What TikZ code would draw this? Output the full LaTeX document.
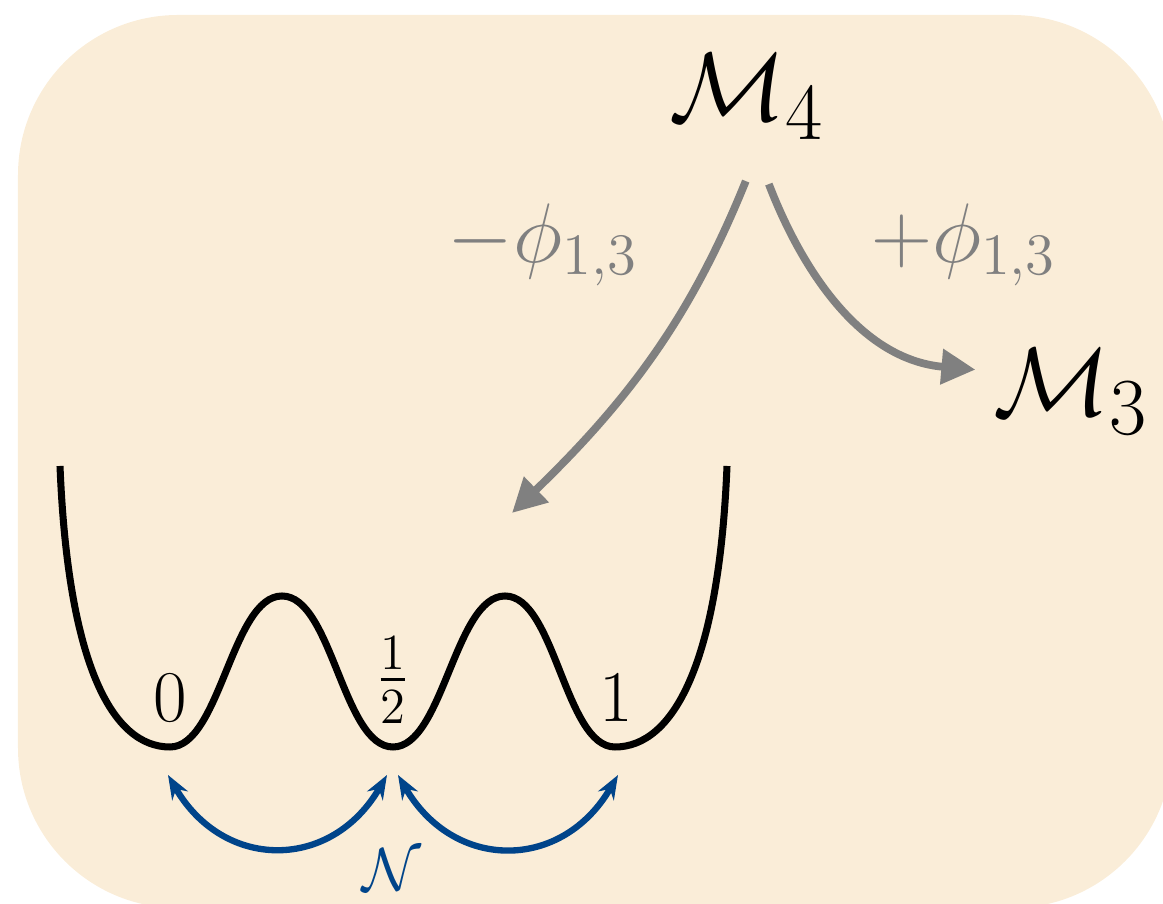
\documentclass[tikz,border=0pt]{standalone}
\usepackage{amsmath}
\usepackage{amssymb}
\usepackage{tikz}
\usetikzlibrary{arrows.meta}
\definecolor{bgbeige}{RGB}{250,237,216}
\definecolor{flowgray}{RGB}{128,128,128}
\definecolor{hopblue}{RGB}{0,68,138}

\begin{document}
\begin{tikzpicture}[
	flow/.style={draw=flowgray,line width=2.2pt,-{Triangle[length=3.4mm,width=3.4mm]}},
	hop/.style={draw=hopblue,line width=1.8pt,{Stealth[length=2.4mm,width=1.8mm]}-{Stealth[length=2.4mm,width=1.8mm]}},
	potential/.style={draw=black,line width=2pt},
	model/.style={font=\Huge,scale=1.11},
	coupling/.style={text=flowgray,font=\huge,scale=1.16},
	]
			\useasboundingbox (0,0) rectangle (11.63,9.04);
			\clip (0,0) rectangle (11.63,9.04);
			\fill[bgbeige,rounded corners=1.6cm] (0.18,-0.04) rectangle (11.72,8.89);
			% minimal models and the flows between them
			\node[model] (M4) at (7.47,8.07) {$\mathcal{M}_4$};
			\node[model] (M3) at (10.71,5.12) {$\mathcal{M}_3$};
			\node[coupling] (minus) at (5.43,6.59) {$-\phi_{1,3}$};
			\node[coupling] (plus) at (9.64,6.59) {$+\phi_{1,3}$};
			\coordinate (tip) at (5.12,3.91);
			\draw[flow,shorten <=3mm] ([xshift=1mm]M4.south) to[out=-112,in=44] (tip);
			\draw[flow,shorten <=3.3mm,shorten >=0.4mm] ([xshift=1mm]M4.south) to[out=-69,in=175] ([yshift=2.2mm]M3.west);
			% triple well
			\draw[potential] (0.60,4.38) .. controls (0.68,2.4) and (1.12,1.57) .. (1.70,1.57)
				.. controls (2.20,1.57) and (2.32,3.08) .. (2.82,3.08)
				.. controls (3.32,3.08) and (3.43,1.57) .. (3.93,1.57)
				.. controls (4.43,1.57) and (4.55,3.08) .. (5.05,3.08)
				.. controls (5.55,3.08) and (5.65,1.57) .. (6.15,1.57)
				.. controls (6.73,1.57) and (7.19,2.4) .. (7.27,4.38);
			\node (v0) at (1.70,2.06) {\huge $0$};
			\node (vh) at (3.93,2.24) {\huge $\frac{1}{2}$};
			\node (v1) at (6.16,2.06) {\huge $1$};
			% hopping between the vacua
			\coordinate (p0) at (1.68,1.29);
			\coordinate (ph1) at (3.87,1.29);
			\coordinate (ph2) at (3.98,1.29);
			\coordinate (p1) at (6.18,1.29);
			\draw[hop] (p0) to[out=-60,in=-120,looseness=1.3] (ph1);
			\draw[hop] (ph2) to[out=-60,in=-120,looseness=1.3] (p1);
			\node[hopblue] (N) at (3.92,0.34) {\LARGE $\mathcal{N}$};
		\end{tikzpicture}
\end{document}
